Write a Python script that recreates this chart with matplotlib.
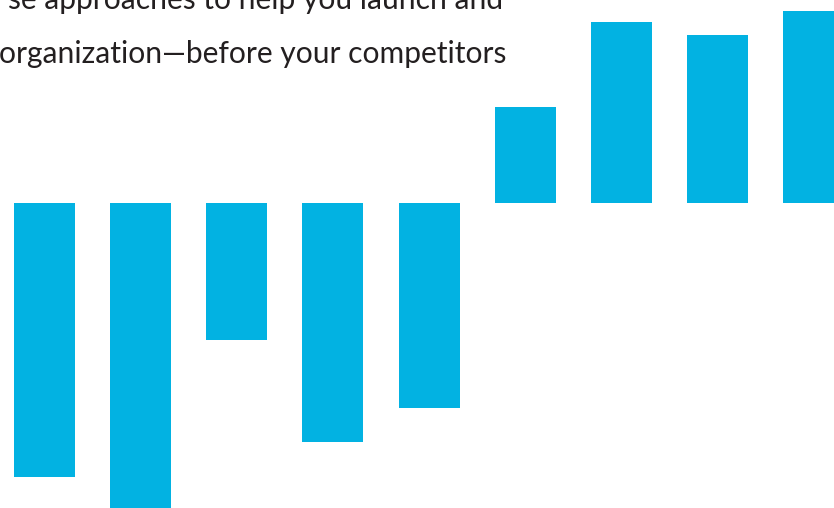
import matplotlib
matplotlib.use("Agg")
import matplotlib.pyplot as plt

categories = ["A", "B", "C", "D", "E", "F", "G", "H", "I"]
values = [-27.4, -30.5, -13.7, -23.9, -20.5, 9.6, 18.1, 16.8, 19.2]
line1 = "se approaches to help you launch and"
line2 = "organization\u2014before your competitors"

W, H = 834, 508
step = 96.125
fig = plt.figure(figsize=(W / 100, H / 100), dpi=100)
ax = fig.add_axes([0, 0, 1, 1])
x = list(range(len(categories)))
ax.bar(x, values, width=61 / step, color="#02B2E2", linewidth=0)
ax.set_xlim(-44.5 / step, (W - 44.5) / step)
ax.set_ylim(-30.5, 20.3)
ax.axis("off")

fig.text(503 / W, 1 - 9 / H, line1, ha="right", va="baseline",
         fontsize=21.6, family="Lato", color="#231F20")
fig.text(506 / W, 1 - 62.5 / H, line2, ha="right", va="baseline",
         fontsize=21.6, family="Lato", color="#231F20")

fig.savefig("out.png", dpi=100)
